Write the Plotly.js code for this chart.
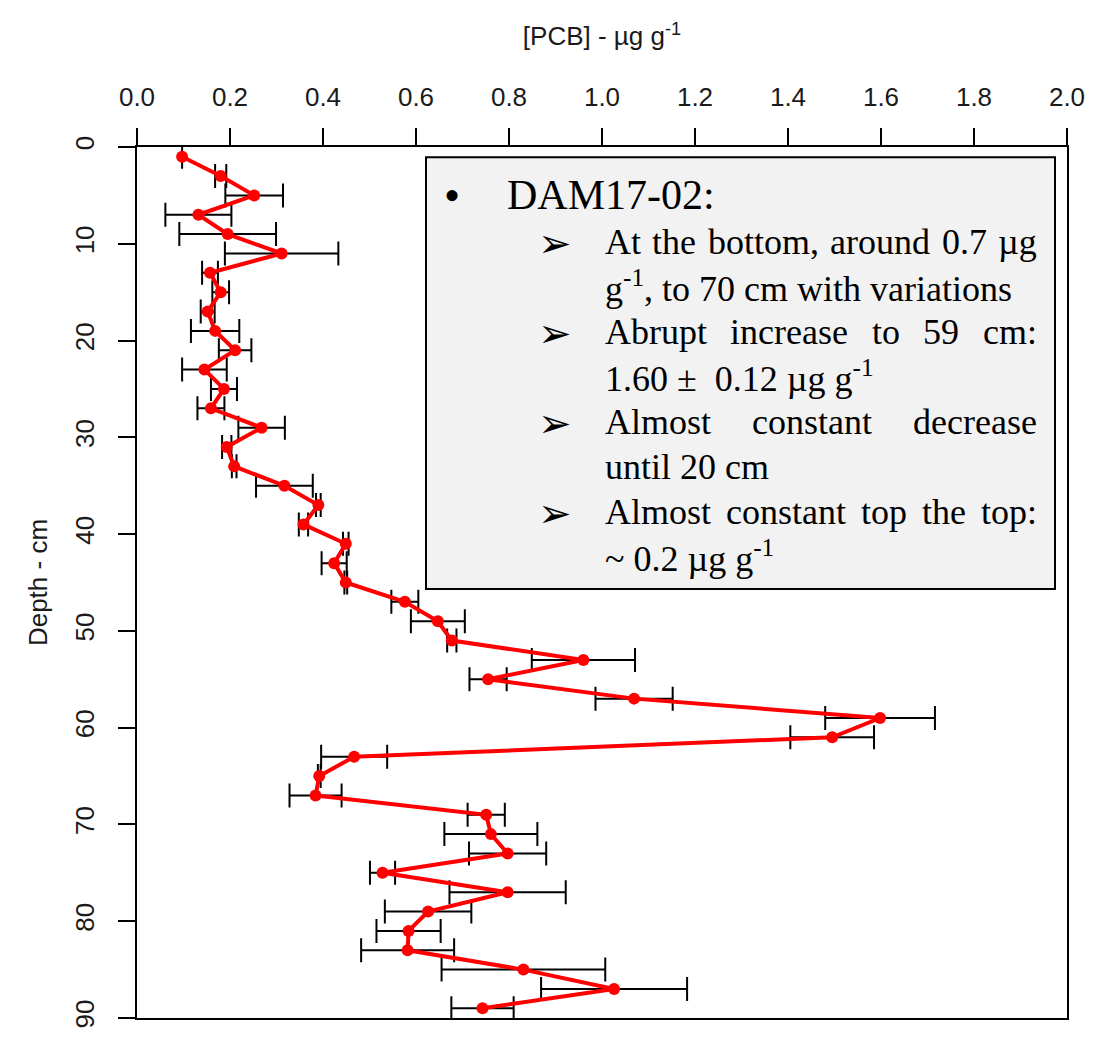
<!DOCTYPE html>
<html>
<head>
<meta charset="utf-8">
<script src="https://cdn.plot.ly/plotly-3.0.1.min.js"></script>
<style>
  html, body { margin: 0; padding: 0; background: #ffffff; }
  #chart { width: 1101px; height: 1046px; }
</style>
</head>
<body>
<div id="chart"></div>
<script>
// ---- Data ----
const depthCm = [1, 3, 5, 7, 9, 11, 13, 15, 17, 19, 21, 23, 25, 27, 29, 31, 33, 35, 37, 39,
                 41, 43, 45, 47, 49, 51, 53, 55, 57, 59, 61, 63, 65, 67, 69, 71, 73, 75, 77, 79,
                 81, 83, 85, 87, 89];
const pcbConc = [0.097, 0.180, 0.252, 0.132, 0.195, 0.311, 0.157, 0.180, 0.152, 0.168,
                 0.211, 0.145, 0.187, 0.159, 0.268, 0.193, 0.209, 0.317, 0.390, 0.358,
                 0.449, 0.424, 0.449, 0.576, 0.647, 0.677, 0.960, 0.755, 1.069, 1.598,
                 1.495, 0.467, 0.392, 0.384, 0.751, 0.761, 0.797, 0.528, 0.797, 0.626,
                 0.584, 0.582, 0.831, 1.026, 0.743];
const pcbErr  = [null, 0.012, 0.062, 0.071, 0.104, 0.122, 0.017, 0.018, 0.015, 0.052,
                 0.035, 0.048, 0.028, 0.029, 0.050, 0.010, 0.005, 0.061, 0.005, 0.010,
                 0.006, 0.027, 0.003, 0.029, 0.058, 0.010, 0.111, 0.040, 0.083, 0.118,
                 0.090, 0.071, 0.003, 0.056, 0.040, 0.100, 0.083, 0.027, 0.125, 0.093,
                 0.069, 0.100, 0.176, 0.157, 0.067];
const xTickVals = [0, 0.2, 0.4, 0.6, 0.8, 1.0, 1.2, 1.4, 1.6, 1.8, 2.0];
const xTickText = ["0.0", "0.2", "0.4", "0.6", "0.8", "1.0", "1.2", "1.4", "1.6", "1.8", "2.0"];
const yTickVals = [0, 10, 20, 30, 40, 50, 60, 70, 80, 90];

// ---- Text box content ----
const boxHeading = "DAM17-02:";
const boxItems = [
  { lines: ["At the bottom, around 0.7 µg", "g<sup>-1</sup>, to 70 cm with variations"], justify: [true, false] },
  { lines: ["Abrupt increase to 59 cm:", "1.60 ±  0.12 µg g<sup>-1</sup>"], justify: [true, false] },
  { lines: ["Almost constant decrease", "until 20 cm"], justify: [true, false] },
  { lines: ["Almost constant top the top:", "~ 0.2 µg g<sup>-1</sup>"], justify: [true, false] }
];

// ---- Layout geometry (pixels) ----
const W = 1101, H = 1046;
const PL = 137, PR = 1067, PT = 146.7, PB = 1018.3;
const fx = p => (p - PL) / (PR - PL);
const fy = p => (PB - p) / (PB - PT);

const axisFont = { family: "'Liberation Sans', Arial, sans-serif", size: 26, color: "#1a1a1a" };
const serif = "'Liberation Serif', 'Times New Roman', serif";
const bodySize = 36;

const annotations = [];
const shapes = [];

// text box
shapes.push({
  type: "rect", xref: "paper", yref: "paper",
  x0: fx(426), x1: fx(1055), y0: fy(589), y1: fy(157),
  fillcolor: "#f2f2f2", line: { color: "#000000", width: 2 }, layer: "above"
});

function addText(text, xPix, baselinePix, size, opts) {
  opts = opts || {};
  annotations.push({
    xref: "paper", yref: "paper",
    x: fx(xPix), y: fy(baselinePix - size * 0.32),
    xanchor: opts.xanchor || "left", yanchor: "middle",
    text: text, showarrow: false,
    font: { family: opts.family || serif, size: size, color: "#000000" }
  });
}

// measure words for justified lines
const cvs = document.createElement("canvas");
const ctx = cvs.getContext("2d");
ctx.font = bodySize + "px 'Liberation Serif'";

const textLeft = 602.5, textRight = 1035;
addText("•", 452, 210, 46, { xanchor: "center" });
addText(boxHeading, 505, 208, 42);

let baseline = 253.3;
const lineStep = 45;
boxItems.forEach(item => {
  addText("➢", 555, baseline + 2, 40, { xanchor: "center", family: "'DejaVu Sans', sans-serif" });
  item.lines.forEach((ln, i) => {
    if (item.justify[i]) {
      const words = ln.split(" ");
      const widths = words.map(w => ctx.measureText(w).width);
      const total = widths.reduce((a, b) => a + b, 0);
      const gap = (textRight - textLeft - total) / (words.length - 1);
      let x = textLeft;
      words.forEach((w, k) => {
        addText(w, x, baseline, bodySize);
        x += widths[k] + gap;
      });
    } else {
      addText(ln, textLeft, baseline, bodySize);
    }
    baseline += lineStep;
  });
});

const trace = {
  type: "scatter",
  mode: "lines+markers",
  x: pcbConc,
  y: depthCm,
  line: { color: "#ff0000", width: 4 },
  marker: { color: "#ff0000", size: 12 },
  error_x: { type: "data", array: pcbErr, visible: true, color: "#000000", thickness: 2, width: 12 },
  cliponaxis: false,
  hoverinfo: "none"
};

const layout = {
  width: W, height: H,
  margin: { l: PL, r: W - PR, t: PT, b: H - PB, pad: 0 },
  paper_bgcolor: "#ffffff", plot_bgcolor: "#ffffff",
  showlegend: false,
  xaxis: {
    side: "top", range: [0, 2], tickmode: "array", tickvals: xTickVals, ticktext: xTickText,
    ticks: "outside", ticklen: 17, tickwidth: 2, tickcolor: "#000000",
    showline: true, linecolor: "#000000", linewidth: 2, mirror: true,
    showgrid: false, zeroline: false, tickfont: axisFont, ticklabelstandoff: 12,
    title: { text: "[PCB] - µg g<sup>-1</sup>", font: axisFont, standoff: 28 }
  },
  yaxis: {
    range: [90, 0], tickmode: "array", tickvals: yTickVals,
    ticks: "outside", ticklen: 17, tickwidth: 2, tickcolor: "#000000",
    showline: true, linecolor: "#000000", linewidth: 2, mirror: true,
    showgrid: false, zeroline: false, tickfont: axisFont, tickangle: -90, ticklabelstandoff: 14,
    title: { text: "Depth - cm", font: axisFont, standoff: 14 }
  },
  shapes: shapes,
  annotations: annotations
};

Plotly.newPlot("chart", [trace], layout, { displayModeBar: false, staticPlot: true });
</script>
</body>
</html>
